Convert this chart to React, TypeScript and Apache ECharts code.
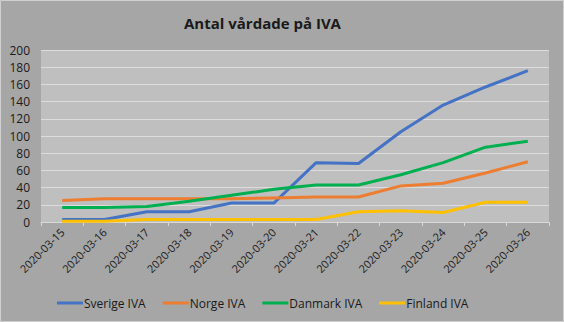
import React, { useEffect, useRef } from "react";
import * as echarts from "echarts";

const categories = [
  "2020-03-15", "2020-03-16", "2020-03-17", "2020-03-18", "2020-03-19", "2020-03-20",
  "2020-03-21", "2020-03-22", "2020-03-23", "2020-03-24", "2020-03-25", "2020-03-26",
];
const sverige = [3, 3, 12, 12, 22, 22, 69, 68, 105, 136, 157, 176];
const norge = [25, 27, 27, 27, 27, 28, 29, 29, 42, 45, 57, 70];
const danmark = [17, 17, 18, 24, 31, 38, 43, 43, 55, 69, 87, 94];
const finland = [1, 1, 3, 3, 3, 3, 3, 12, 13, 11, 23, 23];
const seriesNames = ["Sverige IVA", "Norge IVA", "Danmark IVA", "Finland IVA"];
const seriesColors = ["#4472c4", "#ed7d31", "#00b050", "#ffc000"];

const FONT = "'Open Sans', 'Noto Sans', sans-serif";

export default function App() {
  const ref = useRef<HTMLDivElement>(null);
  useEffect(() => {
    const chart = echarts.init(ref.current!, null, { renderer: "svg" });
    const data = [sverige, norge, danmark, finland];
    chart.setOption({
      animation: false,
      backgroundColor: "#a6a6a6",
      title: {
        text: "Antal vårdade på IVA",
        left: 179,
        top: 10,
        textStyle: { fontFamily: FONT, fontSize: 15, fontWeight: "bold", color: "#1a1a1a" },
      },
      graphic: [
        {
          type: "rect",
          shape: { x: 0.5, y: 0.5, width: 563, height: 321 },
          style: { fill: "none", stroke: "#d0d0d0", lineWidth: 1 },
          silent: true,
        },
      ],
      legend: {
        bottom: 8,
        left: 52,
        itemWidth: 26,
        itemHeight: 3,
        itemGap: 17,
        icon: "rect",
        data: seriesNames,
        textStyle: { fontFamily: FONT, fontSize: 12, color: "#1a1a1a", padding: [0, 0, 0, -4] },
      },
      grid: {
        left: 41,
        right: 15,
        top: 50,
        bottom: 100,
        show: true,
        backgroundColor: "#bfbfbf",
        borderWidth: 0,
      },
      xAxis: {
        type: "category",
        data: categories,
        boundaryGap: true,
        axisLine: { show: true, lineStyle: { color: "#d9d9d9", width: 1 } },
        axisTick: { show: true, alignWithLabel: false, length: 4, lineStyle: { color: "#d9d9d9" } },
        axisLabel: {
          rotate: 45,
          interval: 0,
          margin: 8,
          fontFamily: FONT,
          fontSize: 11,
          color: "#1a1a1a",
        },
      },
      yAxis: {
        type: "value",
        min: 0,
        max: 200,
        interval: 20,
        axisLine: { show: false },
        axisTick: { show: false },
        splitLine: { lineStyle: { color: "#dcdcdc", width: 1 } },
        axisLabel: { fontFamily: FONT, fontSize: 12, color: "#1a1a1a", margin: 11 },
      },
      series: data.map((d, i) => ({
        name: seriesNames[i],
        type: "line",
        data: d,
        symbol: "none",
        color: seriesColors[i],
        lineStyle: { width: 3, color: seriesColors[i] },
      })),
    });
    return () => chart.dispose();
  }, []);
  return (
    <div
      ref={ref}
      style={{ position: "fixed", left: 0, top: 0, width: 564, height: 322 }}
    />
  );
}
